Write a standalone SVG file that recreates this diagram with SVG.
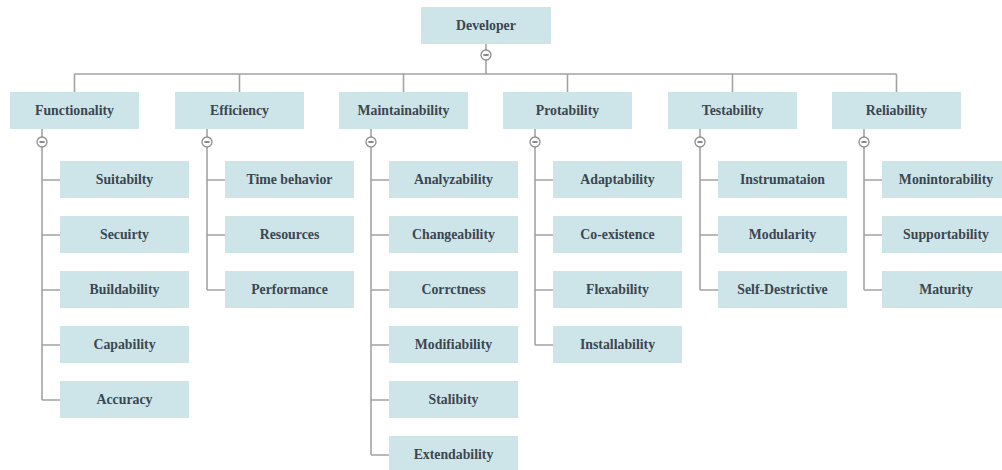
<svg xmlns="http://www.w3.org/2000/svg" width="1002" height="470" viewBox="0 0 1002 470">
<style>
.box{fill:#cde5e8}
.t{font-family:"Liberation Serif","Times New Roman",serif;font-weight:bold;font-size:13.8px;fill:#3b4651;text-anchor:middle;dominant-baseline:central}
.ln{stroke:#a3a3a3;stroke-width:1.6;fill:none}
.cc{fill:#fff;stroke:#8f8f8f;stroke-width:1.3}
.mn{stroke:#6f6f6f;stroke-width:1.6}
</style>
<defs>
<g id="tog"><circle class="cc" r="5"/><line class="mn" x1="-2.6" y1="0" x2="2.6" y2="0"/></g>
</defs>
<rect width="1002" height="470" fill="#fff"/>
<g id="connectors">
<path class="ln" d="M486 44V50M486 60V74M74.5 74H896.5M74.5 74V92M239.5 74V92M403.5 74V92M567.5 74V92M732.5 74V92M896.5 74V92"/>
<path class="ln" d="M42 129V137M42 147V400M42 180H60M42 235H60M42 290H60M42 345H60M42 400H60"/>
<path class="ln" d="M207 129V137M207 147V290M207 180H225M207 235H225M207 290H225"/>
<path class="ln" d="M371 129V137M371 147V455M371 180H389M371 235H389M371 290H389M371 345H389M371 400H389M371 455H389"/>
<path class="ln" d="M535 129V137M535 147V345M535 180H553M535 235H553M535 290H553M535 345H553"/>
<path class="ln" d="M700 129V137M700 147V290M700 180H718M700 235H718M700 290H718"/>
<path class="ln" d="M864 129V137M864 147V290M864 180H882M864 235H882M864 290H882"/>
<use href="#tog" x="486" y="55"/>
<use href="#tog" x="42" y="142"/>
<use href="#tog" x="207" y="142"/>
<use href="#tog" x="371" y="142"/>
<use href="#tog" x="535" y="142"/>
<use href="#tog" x="700" y="142"/>
<use href="#tog" x="864" y="142"/>
</g>
<g id="developer"><rect class="box" x="421" y="7" width="130" height="37"/><text class="t" x="486" y="25.5">Developer</text></g>
<g id="functionality"><rect class="box" x="10" y="92" width="129" height="37"/><text class="t" x="74.5" y="110.5">Functionality</text></g>
<g id="efficiency"><rect class="box" x="175" y="92" width="129" height="37"/><text class="t" x="239.5" y="110.5">Efficiency</text></g>
<g id="maintainability"><rect class="box" x="339" y="92" width="129" height="37"/><text class="t" x="403.5" y="110.5">Maintainability</text></g>
<g id="protability"><rect class="box" x="503" y="92" width="129" height="37"/><text class="t" x="567.5" y="110.5">Protability</text></g>
<g id="testability"><rect class="box" x="668" y="92" width="129" height="37"/><text class="t" x="732.5" y="110.5">Testability</text></g>
<g id="reliability"><rect class="box" x="832" y="92" width="129" height="37"/><text class="t" x="896.5" y="110.5">Reliability</text></g>

<g id="suitabilty"><rect class="box" x="60" y="161" width="129" height="37"/><text class="t" x="124.5" y="179.5">Suitabilty</text></g>
<g id="secuirty"><rect class="box" x="60" y="216" width="129" height="37"/><text class="t" x="124.5" y="234.5">Secuirty</text></g>
<g id="buildability"><rect class="box" x="60" y="271" width="129" height="37"/><text class="t" x="124.5" y="289.5">Buildability</text></g>
<g id="capability"><rect class="box" x="60" y="326" width="129" height="37"/><text class="t" x="124.5" y="344.5">Capability</text></g>
<g id="accuracy"><rect class="box" x="60" y="381" width="129" height="37"/><text class="t" x="124.5" y="399.5">Accuracy</text></g>

<g id="time-behavior"><rect class="box" x="225" y="161" width="129" height="37"/><text class="t" x="289.5" y="179.5">Time behavior</text></g>
<g id="resources"><rect class="box" x="225" y="216" width="129" height="37"/><text class="t" x="289.5" y="234.5">Resources</text></g>
<g id="performance"><rect class="box" x="225" y="271" width="129" height="37"/><text class="t" x="289.5" y="289.5">Performance</text></g>

<g id="analyzability"><rect class="box" x="389" y="161" width="129" height="37"/><text class="t" x="453.5" y="179.5">Analyzability</text></g>
<g id="changeability"><rect class="box" x="389" y="216" width="129" height="37"/><text class="t" x="453.5" y="234.5">Changeability</text></g>
<g id="corrctness"><rect class="box" x="389" y="271" width="129" height="37"/><text class="t" x="453.5" y="289.5">Corrctness</text></g>
<g id="modifiability"><rect class="box" x="389" y="326" width="129" height="37"/><text class="t" x="453.5" y="344.5">Modifiability</text></g>
<g id="stalibity"><rect class="box" x="389" y="381" width="129" height="37"/><text class="t" x="453.5" y="399.5">Stalibity</text></g>
<g id="extendability"><rect class="box" x="389" y="436" width="129" height="37"/><text class="t" x="453.5" y="454.5">Extendability</text></g>

<g id="adaptability"><rect class="box" x="553" y="161" width="129" height="37"/><text class="t" x="617.5" y="179.5">Adaptability</text></g>
<g id="co-existence"><rect class="box" x="553" y="216" width="129" height="37"/><text class="t" x="617.5" y="234.5">Co-existence</text></g>
<g id="flexability"><rect class="box" x="553" y="271" width="129" height="37"/><text class="t" x="617.5" y="289.5">Flexability</text></g>
<g id="installability"><rect class="box" x="553" y="326" width="129" height="37"/><text class="t" x="617.5" y="344.5">Installability</text></g>

<g id="instrumataion"><rect class="box" x="718" y="161" width="129" height="37"/><text class="t" x="782.5" y="179.5">Instrumataion</text></g>
<g id="modularity"><rect class="box" x="718" y="216" width="129" height="37"/><text class="t" x="782.5" y="234.5">Modularity</text></g>
<g id="self-destrictive"><rect class="box" x="718" y="271" width="129" height="37"/><text class="t" x="782.5" y="289.5">Self-Destrictive</text></g>

<g id="monintorability"><rect class="box" x="882" y="161" width="129" height="37"/><text class="t" x="946" y="179.5">Monintorability</text></g>
<g id="supportability"><rect class="box" x="882" y="216" width="129" height="37"/><text class="t" x="946" y="234.5">Supportability</text></g>
<g id="maturity"><rect class="box" x="882" y="271" width="129" height="37"/><text class="t" x="946" y="289.5">Maturity</text></g>
</svg>
